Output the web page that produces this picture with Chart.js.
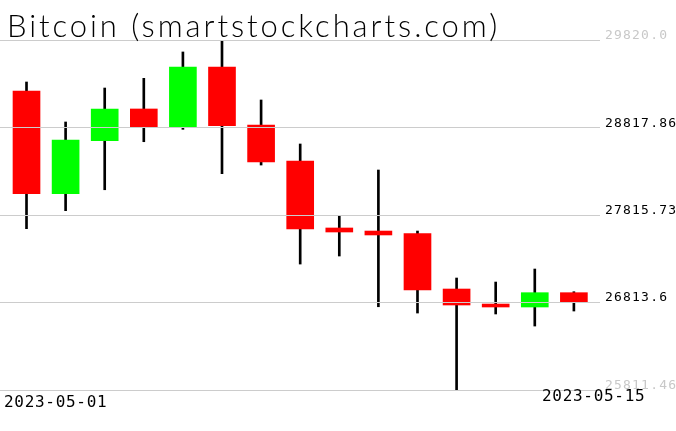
<!DOCTYPE html>
<html>
<head>
<meta charset="utf-8">
<script src="https://cdn.jsdelivr.net/npm/chart.js@4.4.0/dist/chart.umd.min.js"></script>
<style>
  html, body { margin: 0; padding: 0; background: #fff; }
  canvas { display: block; }
</style>
</head>
<body>
<canvas id="grafico" width="676" height="431"></canvas>
<script>
// Dados
const titulo = "Bitcoin (smartstockcharts.com)";
const datas = [
  "2023-05-01", "2023-05-02", "2023-05-03", "2023-05-04", "2023-05-05",
  "2023-05-06", "2023-05-07", "2023-05-08", "2023-05-09", "2023-05-10",
  "2023-05-11", "2023-05-12", "2023-05-13", "2023-05-14", "2023-05-15",
];
const aberturas = [29236, 28060, 28667, 29030, 28827, 29511, 28846, 28434, 27667, 27632, 27602, 26968, 26796, 26762, 26926];
const maximas = [29339, 28881, 29270, 29381, 29683, 29820, 29133, 28629, 27804, 28331, 27632, 27094, 27048, 27197, 26937];
const minimas = [27659, 27865, 28105, 28655, 28797, 28289, 28388, 27254, 27346, 26765, 26693, 25811.46, 26682, 26544, 26716];
const fechamentos = [28060, 28675, 29030, 28827, 29511, 28838, 28423, 27655, 27621, 27587, 26957, 26785, 26762, 26926, 26819];

const ticksY = [25811.46, 26813.6, 27815.73, 28817.86, 29820.0];
const ticksYLabels = ["25811.46", "26813.6", "27815.73", "28817.86", "29820.0"];

// Cores
const verde = "#00ff00";
const vermelho = "#ff0000";

const corpos = datas.map((d, i) => ({ x: i, y: [aberturas[i], fechamentos[i]] }));
const pavios = datas.map((d, i) => ({ x: i, y: [minimas[i], maximas[i]] }));
const coresCorpo = datas.map((d, i) => (fechamentos[i] >= aberturas[i] ? verde : vermelho));

// Textos desenhados no canvas (título, eixo Y à direita, datas)
const textos = {
  id: "textos",
  afterDraw(chart) {
    const ctx = chart.ctx;
    const y = chart.scales.y;
    ctx.save();

    // Título
    ctx.fillStyle = "#000";
    ctx.textBaseline = "alphabetic";
    ctx.textAlign = "left";
    ctx.font = "300 31px Lato, 'DejaVu Sans'";
    ctx.letterSpacing = "0px";
    const largura = ctx.measureText(titulo).width;
    ctx.letterSpacing = ((490 - largura) / (titulo.length - 1)).toFixed(2) + "px";
    ctx.fillText(titulo, 7, 37);

    // Rótulos do eixo Y
    ctx.font = "13px 'DejaVu Sans Mono'";
    ctx.letterSpacing = "1.2px";
    ticksY.forEach((v, i) => {
      const extremo = i == 0 || i == ticksY.length - 1;
      ctx.fillStyle = extremo ? "#c8c8c8" : "#000";
      ctx.fillText(ticksYLabels[i], 605, Math.round(y.getPixelForValue(v)) - 1);
    });

    // Datas
    ctx.fillStyle = "#000";
    ctx.font = "16px 'DejaVu Sans Mono'";
    ctx.letterSpacing = "0.7px";
    ctx.fillText(datas[0], 4, 407);
    ctx.fillText(datas[datas.length - 1], 542, 401);

    ctx.restore();
  },
};

const ctx = document.querySelector("#grafico").getContext("2d");
new Chart(ctx, {
  type: "bar",
  data: {
    datasets: [
      {
        label: "corpo",
        data: corpos,
        backgroundColor: coresCorpo,
        barThickness: 27,
        borderWidth: 0,
        grouped: false,
        order: 1,
      },
      {
        label: "pavio",
        data: pavios,
        backgroundColor: "#000",
        barThickness: 2,
        borderWidth: 0,
        grouped: false,
        order: 2,
      },
    ],
  },
  options: {
    responsive: false,
    animation: false,
    devicePixelRatio: 1,
    layout: { padding: { top: 40, bottom: 41, left: 0, right: 76 } },
    plugins: { legend: { display: false }, tooltip: { enabled: false } },
    scales: {
      x: {
        type: "linear",
        min: -0.678,
        max: 14.668,
        offset: false,
        bounds: "ticks",
        display: false,
      },
      y: {
        position: "right",
        min: ticksY[0],
        max: ticksY[ticksY.length - 1],
        afterBuildTicks: (scale) => {
          scale.ticks = ticksY.map((v) => ({ value: v }));
        },
        afterFit: (scale) => {
          scale.width = 0;
        },
        ticks: { display: false },
        border: { display: false },
        grid: { color: "#cccccc", drawTicks: false, z: 1 },
      },
    },
  },
  plugins: [textos],
});
</script>
</body>
</html>
